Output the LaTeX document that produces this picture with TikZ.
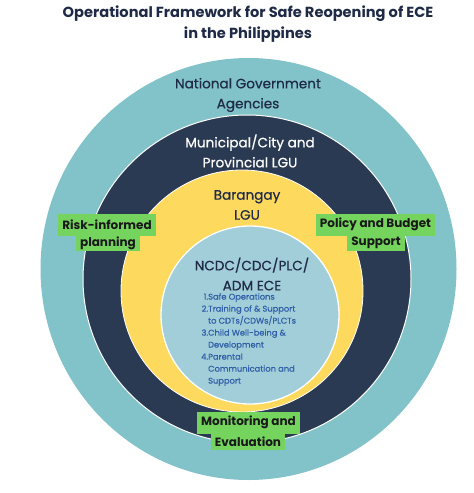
\documentclass[tikz,border=0pt]{standalone}
\usepackage{fontspec}
\setmainfont{Poppins}
\newfontfamily\popmid[FakeBold=0.6]{Poppins}
\definecolor{ringteal}{HTML}{82C3C9}
\definecolor{ringnavy}{HTML}{2B3A53}
\definecolor{ringyellow}{HTML}{FDD95E}
\definecolor{corebl}{HTML}{A2CEDA}
\definecolor{labgreen}{HTML}{74D45E}
\definecolor{titlenavy}{HTML}{1F2B46}
\definecolor{listblue}{HTML}{2F5EA7}
\begin{document}
\begin{tikzpicture}[x=1pt,y=-1pt,
  ringtext/.style={align=center,inner sep=0pt,font=\popmid\fontsize{13.6}{20}\selectfont},
  greenline/.style={fill=labgreen,inner xsep=4pt,inner ysep=0pt,text=black!90,font=\bfseries\fontsize{12}{13}\selectfont},
  gtop/.style={greenline,minimum height=22pt},
  gbot/.style={greenline,minimum height=16pt}]
\useasboundingbox (0,0) rectangle (474,493);
\fill[white] (0,0) rectangle (474,493);
% title
\node[align=center,inner sep=0pt,text=titlenavy,font=\bfseries\fontsize{14.6}{21}\selectfont] (title) at (248,24)
  {Operational Framework for Safe Reopening of ECE\\in the Philippines};
% rings
\fill[ringteal] (248.5,269) ellipse [x radius=208pt, y radius=211pt];
\filldraw[fill=ringnavy,draw=white,line width=1pt] (247,279) circle [radius=164pt];
\filldraw[fill=ringyellow,draw=white,line width=0.8pt] (242,291) circle [radius=121pt];
\filldraw[fill=corebl,draw=white,line width=1.3pt] (250,315) circle [radius=89pt];
% ring texts
\node[ringtext,text=titlenavy] (nga) at (248,95) {National Government\\Agencies};
\node[ringtext,text=white] (lgu) at (250,151) {Municipal/City and\\Provincial LGU};
\node[ringtext,text=titlenavy] (brgy) at (247,205) {Barangay\\LGU};
\node[ringtext,text=titlenavy] (ncdc) at (252,274) {NCDC/CDC/PLC/\\ADM ECE};
\node[anchor=north west,inner sep=0pt,text=listblue,font=\popmid\fontsize{8.3}{12}\selectfont] (list) at (201,291)
  {\begin{tabular}{@{}r@{}l@{}}
   1.&Safe Operations\\
   2.&Training of \& Support\\
     &to CDTs/CDWs/PLCTs\\
   3.&Child Well-being \&\\
     &Development\\
   4.&Parental\\
     &Communication and\\
     &Support
   \end{tabular}};
% green labels
\node[gbot] (riskB) at (108,243) {planning};
\node[gtop] (riskA) at (107,224.5) {Risk-informed};
\node[gbot] (polB) at (376,243) {Support};
\node[gtop] (polA) at (375.5,224.5) {Policy and Budget};
\node[gbot] (monB) at (248,442) {Evaluation};
\node[gtop] (monA) at (248.5,422.5) {Monitoring and};
\end{tikzpicture}
\end{document}
